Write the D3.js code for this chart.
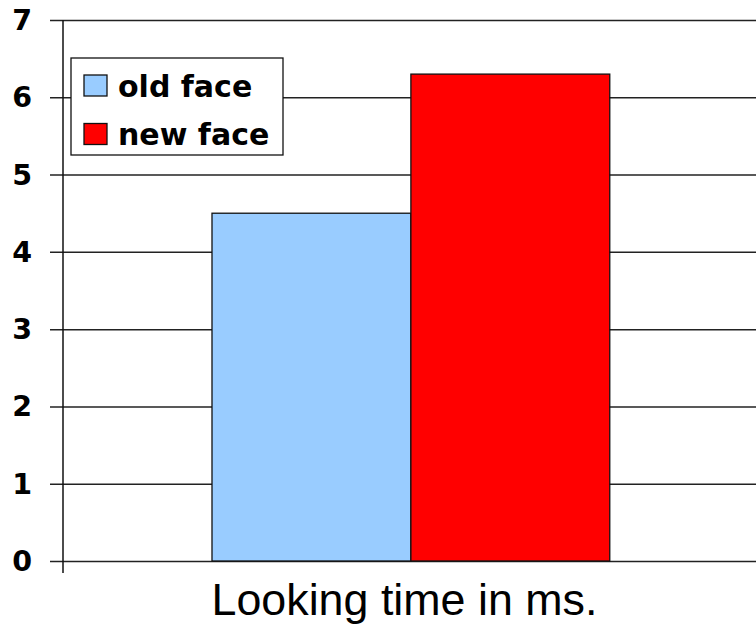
<!DOCTYPE html>
<html>
<head>
<meta charset="utf-8">
<script src="https://cdn.jsdelivr.net/npm/d3@7"></script>
<style>
  html, body { margin: 0; padding: 0; background: #fff; }
  svg { display: block; }
</style>
</head>
<body>
<svg id="chart" width="756" height="629"></svg>
<script>
const categories = ["Looking time in ms."];
const seriesNames = ["old face", "new face"];
const seriesValues = [4.5, 6.3];
const seriesColors = ["#99CCFF", "#FF0000"];
const yTicks = [0, 1, 2, 3, 4, 5, 6, 7];

(function () {
const svg = d3.select("#chart");
const mLeft = 63, mRight = 756, mTop = 20, mBottom = 561;

const y = d3.scaleLinear().domain([0, 7]).range([mBottom, mTop]);
const x0 = d3.scaleBand().domain(categories).range([mLeft, mRight]).paddingInner(0).paddingOuter(0);
const x1 = d3.scaleBand().domain(seriesNames)
  .range([x0(categories[0]) + x0.bandwidth() * 0.215, x0(categories[0]) + x0.bandwidth() * 0.789]);

// gridlines + ticks
const yAxis = d3.axisLeft(y).tickValues(yTicks).tickSize(-(mRight - mLeft) - 13).tickPadding(0).tickFormat(d3.format("d"));
const gAxis = svg.append("g").attr("transform", `translate(${mRight},0)`).call(yAxis);
gAxis.select(".domain").remove();
gAxis.selectAll(".tick line").attr("x1", 0).attr("x2", -(mRight - mLeft) - 13)
  .attr("stroke", "#222").attr("stroke-width", 1.5);
gAxis.selectAll(".tick text").remove();

// y tick labels
svg.append("g").selectAll("text").data(yTicks).join("text")
  .attr("x", 32).attr("y", d => y(d) + 10)
  .attr("text-anchor", "end")
  .attr("font-family", "'DejaVu Sans', sans-serif")
  .attr("font-weight", "bold")
  .attr("font-size", 28.5)
  .attr("fill", "#000")
  .text(d => d);

// bars
const data = seriesNames.map((s, i) => ({ name: s, value: seriesValues[i], color: seriesColors[i] }));
svg.append("g").selectAll("rect").data(data).join("rect")
  .attr("x", d => x1(d.name))
  .attr("y", d => y(d.value))
  .attr("width", x1.bandwidth())
  .attr("height", d => y(0) - y(d.value))
  .attr("fill", d => d.color)
  .attr("stroke", "#111")
  .attr("stroke-width", 1.3);

// y axis line (extends to category tick)
svg.append("line").attr("x1", mLeft).attr("x2", mLeft).attr("y1", mTop).attr("y2", mBottom + 12)
  .attr("stroke", "#111").attr("stroke-width", 1.5);

// x category label
svg.append("g").selectAll("text").data(categories).join("text")
  .attr("x", d => x0(d) + x0.bandwidth() / 2 - 5)
  .attr("y", 615)
  .attr("text-anchor", "middle")
  .attr("font-family", "'Liberation Sans', Arial, sans-serif")
  .attr("font-size", 44.8)
  .attr("fill", "#000")
  .text(d => d);

// legend
const lg = svg.append("g");
lg.append("rect").attr("x", 71).attr("y", 58).attr("width", 212).attr("height", 97)
  .attr("fill", "#fff").attr("stroke", "#111").attr("stroke-width", 1.3);
const items = lg.selectAll("g.item").data(data).join("g").attr("class", "item")
  .attr("transform", (d, i) => `translate(0, ${i * 48.5})`);
items.append("rect").attr("x", 84).attr("y", 75).attr("width", 23).attr("height", 21)
  .attr("fill", d => d.color).attr("stroke", "#111").attr("stroke-width", 1.3);
items.append("text").attr("x", 118).attr("y", 96.5)
  .attr("font-family", "'DejaVu Sans', sans-serif")
  .attr("font-weight", "bold")
  .attr("font-size", 30)
  .attr("fill", "#000")
  .text(d => d.name);
})();
</script>
</body>
</html>
